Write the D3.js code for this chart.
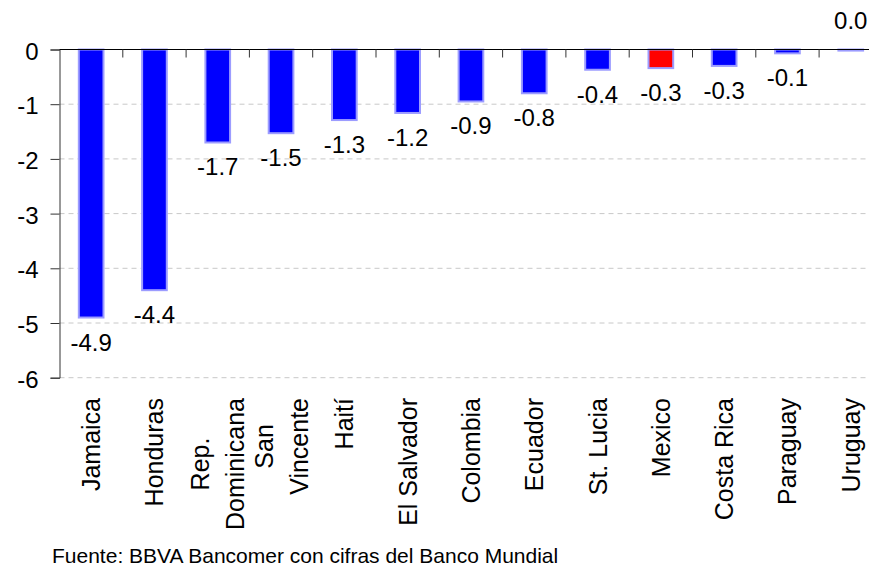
<!DOCTYPE html>
<html>
<head>
<meta charset="utf-8">
<script src="https://cdn.jsdelivr.net/npm/d3@7"></script>
<style>
  body { margin: 0; background: #fff; }
  svg { display: block; font-family: "Liberation Sans", Arial, sans-serif; }
</style>
</head>
<body>
<div id="chart"></div>
<script>
// categories (multi-line labels split on "|")
var countries = ["Jamaica", "Honduras", "Rep.|Dominicana", "San|Vincente", "Haití", "El Salvador",
                 "Colombia", "Ecuador", "St. Lucia", "Mexico", "Costa Rica", "Paraguay", "Uruguay"];
var values = [-4.9, -4.4, -1.7, -1.53, -1.29, -1.16, -0.95, -0.8, -0.37, -0.34, -0.3, -0.07, -0.02];
var highlight = ["Mexico"];
var yTicks = [0, -1, -2, -3, -4, -5, -6];
var source = "Fuente: BBVA Bancomer con cifras del Banco Mundial";

var W = 869, H = 567;
var margin = {left: 59.5, top: 49.5, bottom: 189.3};

var svg = d3.select("#chart").append("svg")
    .attr("width", W)
    .attr("height", H);

var x = d3.scaleBand()
    .domain(countries)
    .range([margin.left, margin.left + 63.3 * countries.length])
    .paddingInner(0).paddingOuter(0);

var y = d3.scaleLinear()
    .domain([-6, 0])
    .range([H - margin.bottom, margin.top]);

// dashed gridlines
svg.append("g").selectAll("line")
    .data(yTicks.filter(function(d) { return d !== 0; }))
  .enter().append("line")
    .attr("x1", margin.left).attr("x2", W)
    .attr("y1", function(d) { return y(d); })
    .attr("y2", function(d) { return y(d); })
    .attr("stroke", "#c8c8c8")
    .attr("stroke-width", 1)
    .attr("stroke-dasharray", "5,4");

// y axis
var yAxis = svg.append("g")
    .attr("transform", "translate(" + margin.left + ",0)")
    .call(d3.axisLeft(y).tickValues(yTicks).tickSize(9).tickPadding(12));
yAxis.attr("font-size", null).attr("font-family", null);
yAxis.select(".domain").attr("stroke", "#333");
yAxis.selectAll(".tick line").attr("stroke", "#333");
yAxis.selectAll(".tick text")
    .style("font-size", "24px")
    .attr("fill", "#000")
    .attr("dy", "0.4em")
    .text(function(d) { return d === 0 ? "0" : "-" + Math.abs(d); });

// bars
var barW = x.bandwidth() * 0.39;
svg.append("g").selectAll("rect")
    .data(countries)
  .enter().append("rect")
    .attr("x", function(d) { return x(d) + x.bandwidth() / 2 - barW / 2; })
    .attr("y", y(0))
    .attr("width", barW)
    .attr("height", function(d, i) { return y(values[i]) - y(0); })
    .attr("fill", function(d) { return highlight.indexOf(d) >= 0 ? "#ff0000" : "#0000ff"; })
    .attr("stroke", "#9c9cff")
    .attr("stroke-width", 2);

// zero line with ticks between categories
svg.append("line")
    .attr("x1", margin.left).attr("x2", W)
    .attr("y1", y(0)).attr("y2", y(0))
    .attr("stroke", "#000").attr("stroke-width", 1.2);
svg.append("g").selectAll("line")
    .data(countries.slice(1))
  .enter().append("line")
    .attr("x1", function(d) { return x(d); })
    .attr("x2", function(d) { return x(d); })
    .attr("y1", y(0)).attr("y2", y(0) + 8)
    .attr("stroke", "#333");

// value labels
svg.append("g").selectAll("text")
    .data(countries)
  .enter().append("text")
    .attr("x", function(d) { return x(d) + x.bandwidth() / 2; })
    .attr("y", function(d, i) {
        var v = values[i];
        return Math.abs(v) < 0.05 ? y(0) - 21 : y(v) + 33;
    })
    .attr("text-anchor", "middle")
    .attr("font-size", 24)
    .text(function(d, i) {
        var s = d3.format(".1f")(values[i]).replace("−", "-");
        return s === "-0.0" ? "0.0" : s;
    });

// category labels, rotated
var labTop = 398, lineGap = 35;
var lab = svg.append("g").selectAll("text")
    .data(countries)
  .enter().append("text")
    .attr("font-size", 25)
    .attr("text-anchor", "middle");

lab.each(function(d) {
    var t = d3.select(this);
    var lines = d.split("|");
    var n = lines.length;
    lines.forEach(function(l) {
        t.append("tspan").text(l);
    });
    var maxLen = 0;
    t.selectAll("tspan").each(function() {
        maxLen = Math.max(maxLen, this.getComputedTextLength());
    });
    var cx = x(d) + x.bandwidth() / 2;
    var cy = labTop + maxLen / 2;
    t.attr("transform", "translate(" + cx + "," + cy + ") rotate(-90)");
    t.selectAll("tspan")
        .attr("x", 0)
        .attr("y", function(s, j) { return 9 + (j - (n - 1) / 2) * lineGap; });
});

// source note
svg.append("text")
    .attr("x", 52)
    .attr("y", 563)
    .attr("font-size", 21)
    .text(source);
</script>
</body>
</html>
